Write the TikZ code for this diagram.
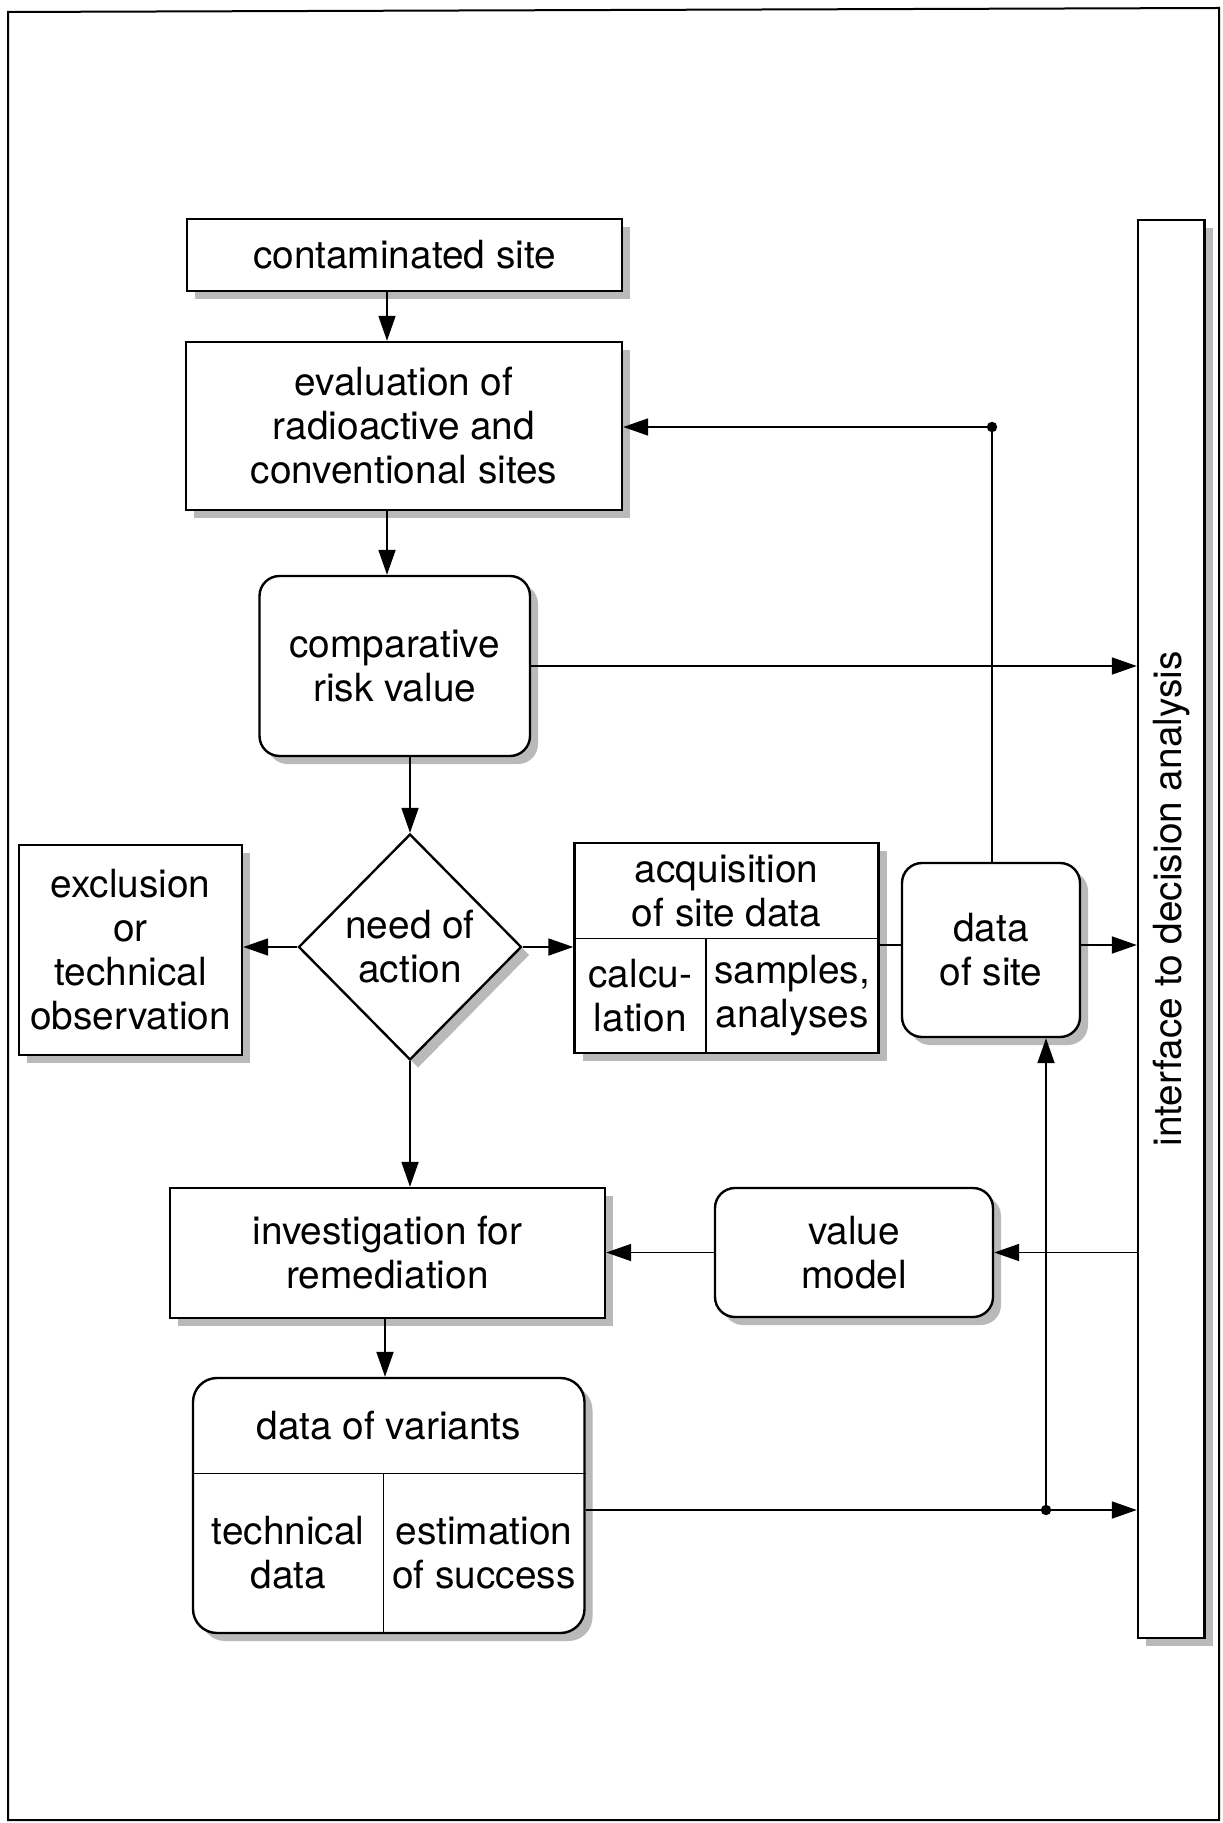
\documentclass[tikz,border=0pt]{standalone}
\usepackage{fontspec}
\setmainfont{TeX Gyre Heros}
\usetikzlibrary{arrows.meta,shapes.geometric,shadows}
\newcommand{\lblfont}{\fontsize{19.4}{22}\selectfont}
\begin{document}
\begin{tikzpicture}[x=0.5pt,y=-0.5pt,
  shd/.style={drop shadow={shadow xshift=4pt,shadow yshift=-4pt,fill=gray!55,opacity=1}},
  box/.style={draw,line width=1.2pt,fill=white,inner sep=0pt,align=center,font=\lblfont,shd},
  rbox/.style={box,rounded corners=10pt},
  txt/.style={inner sep=0pt,align=center,font=\lblfont},
  arr/.style={line width=0.9pt,-{Triangle[length=12.5pt,width=8.5pt]}},
  conn/.style={line width=0.9pt},
  divider/.style={line width=0.8pt},
  dot/.style={fill=black}
]
\useasboundingbox (0,0) rectangle (1222,1823);
% outer frame
\draw[line width=1pt] (8,12) -- (1219,8) -- (1219,1820) -- (8,1820) -- cycle;

% boxes
\node[box,minimum width=217.5pt,minimum height=36pt] (cont) at (404.5,255) {contaminated site};
\node[box,minimum width=218pt,minimum height=84pt] (eval) at (404,426)
  {evaluation of\\radioactive and\\conventional sites};
\node[rbox,minimum width=135.25pt,minimum height=90pt] (comp) at (394.75,666)
  {comparative\\risk value};
\node[box,shape=diamond,minimum width=111.5pt,minimum height=113pt] (need) at (410,947)
  {need of\\action};
\node[box,minimum width=111.5pt,minimum height=105.25pt] (excl) at (130.5,950)
  {exclusion\\or\\technical\\observation};

% acquisition of site data (split box)
\node[box,minimum width=152pt,minimum height=105pt] (acq) at (726.5,948) {};
\coordinate (acqdiv) at (0,938.5);
\coordinate (acqmid) at (706,0);
\draw[divider] (acq.west |- acqdiv) -- (acq.east |- acqdiv);
\draw[divider] (acqmid |- acqdiv) -- (acqmid |- acq.south);
\node[txt] (acqhead) at (726.5,890.75) {acquisition\\of site data};
\node[txt] (acqcalc) at (640.25,995.75) {calcu-\\lation};
\node[txt] (acqsamp) at (792.2,995.75) {samples,\\analyses};

\node[rbox,minimum width=89pt,minimum height=87pt] (site) at (991,950) {data\\of site};

% interface bar
\node[box,shd/.style={drop shadow={shadow xshift=3pt,shadow yshift=-3pt,fill=gray!55,opacity=1}},
  minimum width=33.25pt,minimum height=709pt] (bar) at (1171.25,929) {};
\node[txt,rotate=90] (bartext) at (1171.25,899) {interface to decision analysis};

\node[box,minimum width=217.5pt,minimum height=65pt] (inv) at (387.5,1253)
  {investigation for\\remediation};
\node[rbox,minimum width=139pt,minimum height=64.5pt] (vm) at (854,1252.5) {value\\model};

% data of variants (split box)
\node[box,rounded corners=12pt,minimum width=195.75pt,minimum height=127.5pt] (var) at (388.75,1505.5) {};
\coordinate (vardiv) at (0,1473.6);
\coordinate (varmid) at (383.5,0);
\draw[divider] (var.west |- vardiv) -- (var.east |- vardiv);
\draw[divider] (varmid |- vardiv) -- (varmid |- var.south);
\node[txt] (varhead) at (388.75,1426) {data of variants};
\node[txt] (vartech) at (288.25,1553) {technical\\data};
\node[txt] (varest) at (484,1553) {estimation\\of success};

% connectors
\coordinate (xa) at (387,0);
\coordinate (xd) at (385,0);
\coordinate (ys) at (0,945);
\coordinate (fb) at (992,427);
\coordinate (jn) at (1046,1510);

\draw[arr] (cont.south -| xa) -- (eval.north -| xa);
\draw[arr] (eval.south -| xa) -- (comp.north -| xa);
\draw[arr] (comp.south -| need.north) -- (need.north);
\draw[arr] (comp.east) -- (bar.west |- comp.east);
\draw[arr] (need.west) -- (excl.east |- need.west);
\draw[arr] (need.east) -- (acq.west |- need.east);
\draw[conn] (acq.east |- ys) -- (site.west |- ys);
\draw[arr] (site.east |- ys) -- (bar.west |- ys);
\draw[conn] (site.north -| fb) -- (fb);
\draw[arr] (fb) -- (eval.east |- fb);
\fill[dot] (fb) circle (2.6pt);
\draw[arr] (need.south) -- (inv.north -| need.south);
\draw[arr] (inv.south -| xd) -- (var.north -| xd);
\draw[arr] (vm.west) -- (inv.east |- vm.west);
\draw[arr] (bar.west |- vm.east) -- (vm.east);
\draw[arr] (var.east |- jn) -- (bar.west |- jn);
\draw[arr] (jn) -- (site.south -| jn);
\fill[dot] (jn) circle (2.6pt);
\end{tikzpicture}
\end{document}
